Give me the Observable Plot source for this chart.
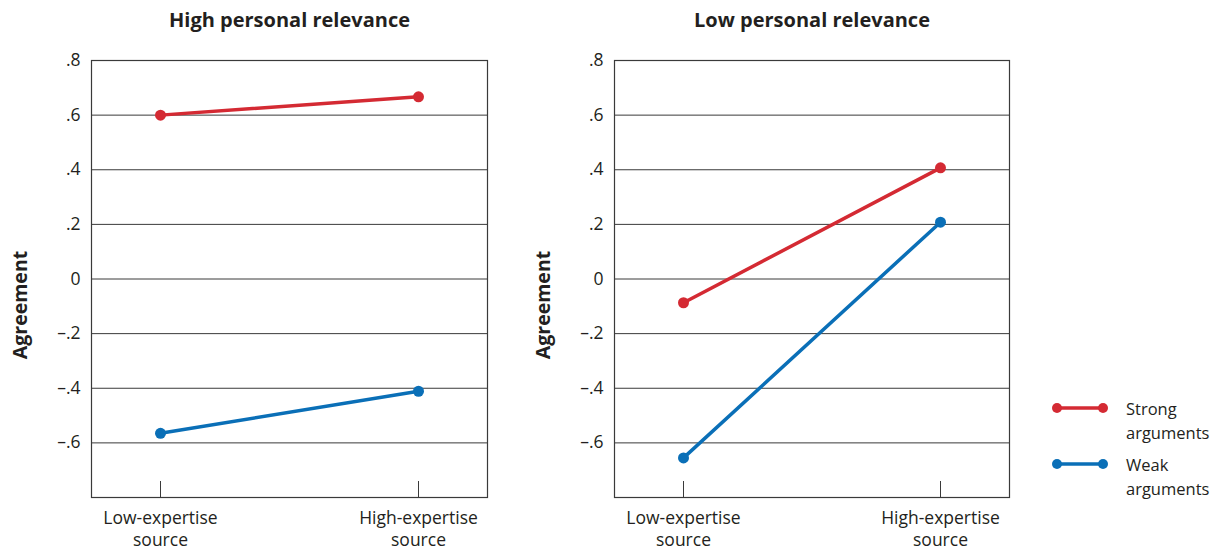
<!DOCTYPE html>
<html>
<head>
<meta charset="utf-8">
<script src="https://cdn.jsdelivr.net/npm/d3@7"></script>
<script src="https://cdn.jsdelivr.net/npm/@observablehq/plot@0.6"></script>
<style>
  html, body { margin: 0; padding: 0; background: #fff; }
  #wrap { position: relative; width: 1225px; height: 551px; font-family: "Open Sans", sans-serif; color: #231f20; }
  #left { position: absolute; left: 0; top: 0; }
  #right { position: absolute; left: 510px; top: 0; }
  #legend { position: absolute; left: 1050px; top: 397px; font-size: 16.5px; line-height: 24px; }
  .item { display: flex; align-items: flex-start; margin-bottom: 8px; }
  .item svg { margin-top: 4px; margin-right: 16px; }
</style>
</head>
<body>
<div id="wrap">
  <div id="left"></div>
  <div id="right"></div>
  <div id="legend"></div>
</div>
<script>
const panelTitles = ["High personal relevance", "Low personal relevance"];
const sources = ["Low-expertise source", "High-expertise source"];
const seriesNames = ["Strong arguments", "Weak arguments"];
const seriesColors = ["#d42a33", "#0a6fb7"];
const highStrong = [0.60, 0.667];
const highWeak = [-0.565, -0.411];
const lowStrong = [-0.087, 0.407];
const lowWeak = [-0.655, 0.208];
const yTicks = [0.8, 0.6, 0.4, 0.2, 0, -0.2, -0.4, -0.6];
const gridTicks = [0.6, 0.4, 0.2, 0, -0.2, -0.4, -0.6];
const yLabel = "Agreement";

const ink = "#231f20";
const fmt = d => d === 0 ? "0" : (d < 0 ? "–" : "") + Math.abs(d).toFixed(1).replace(/^0/, "");

function panel(title, strong, weak, width, marginLeft, marginRight) {
  const data = [];
  sources.forEach((s, i) => {
    data.push({source: s, series: seriesNames[0], value: strong[i]});
    data.push({source: s, series: seriesNames[1], value: weak[i]});
  });
  return Plot.plot({
    width, height: 551,
    marginLeft, marginRight, marginTop: 60, marginBottom: 54,
    style: {fontFamily: "'Open Sans', sans-serif", fontSize: "17.5px", color: ink, background: "transparent", overflow: "visible"},
    x: {type: "point", domain: sources, padding: 0.267, label: null},
    y: {domain: [-0.8, 0.8], label: null},
    color: {domain: seriesNames, range: seriesColors},
    marks: [
      Plot.ruleY(gridTicks, {stroke: "#3a3a3a", strokeWidth: 1}),
      Plot.frame({stroke: "#3a3a3a", strokeWidth: 1.2}),
      Plot.axisY({ticks: yTicks, tickSize: 0, tickPadding: 11, tickFormat: fmt, label: null, fill: ink}),
      Plot.axisX({tickSize: -16, tickFormat: () => "", label: null, stroke: "#3a3a3a"}),
      Plot.axisX({tickSize: 0, tickPadding: 10, tickFormat: d => d.replace(" ", "\n"), label: null, fill: ink, lineHeight: 1.3}),
      Plot.text([yLabel], {frameAnchor: "left", dx: -71, dy: 26, rotate: -90, textAnchor: "middle", fontWeight: "bold", fontSize: 19.5, fill: ink}),
      Plot.text([title], {frameAnchor: "top", lineAnchor: "middle", dy: -40, fontWeight: "bold", fontSize: 20, fill: ink}),
      Plot.line(data, {x: "source", y: "value", z: "series", stroke: "series", strokeWidth: 3.5}),
      Plot.dot(data, {x: "source", y: "value", fill: "series", r: 5.5})
    ]
  });
}

document.getElementById("left").append(panel(panelTitles[0], highStrong, highWeak, 510, 91, 23));
document.getElementById("right").append(panel(panelTitles[1], lowStrong, lowWeak, 520, 104, 21));

const legend = document.getElementById("legend");
seriesNames.forEach((name, i) => {
  const item = document.createElement("div");
  item.className = "item";
  const c = seriesColors[i];
  item.innerHTML = `<svg width="60" height="14"><line x1="7" x2="53" y1="7" y2="7" stroke="${c}" stroke-width="3.5"/><circle cx="7" cy="7" r="5" fill="${c}"/><circle cx="53" cy="7" r="5" fill="${c}"/></svg><div>${name.replace(" ", "<br>")}</div>`;
  legend.append(item);
});
</script>
</body>
</html>
